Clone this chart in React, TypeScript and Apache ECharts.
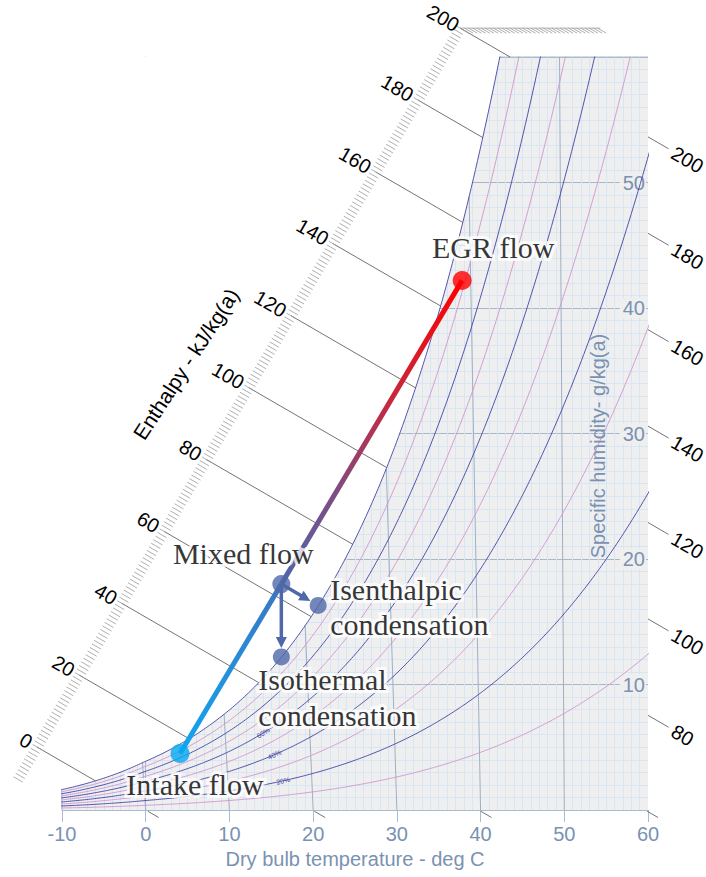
import React, { useEffect, useRef } from "react";
import * as echarts from "echarts";

// ---------- chart data ----------
const tempTicks = [-10, 0, 10, 20, 30, 40, 50, 60];
const humidityTicks = [0, 10, 20, 30, 40, 50, 60];
const rhLevels = [10, 20, 30, 40, 50, 60, 70, 80, 90, 100];
const rhLabelLevels = [20, 40, 60];
const rhLabelTemps = [16.6, 15.7, 14.5];
const isothermTemps = [0, 10, 20, 30, 40, 50];
const enthalpyScale = [0, 20, 40, 60, 80, 100, 120, 140, 160, 180, 200];
const enthalpyRight = [80, 100, 120, 140, 160, 180, 200];
const enthalpyBottom = [0, 20, 40, 60];

// process states, in chart units (dry-bulb scale, g/kg)
const pointNames = ["Intake flow", "Mixed flow", "Isenthalpic\ncondensation", "Isothermal\ncondensation", "EGR flow"];
const pointTemp = [4.1, 16.2, 20.6, 16.2, 37.8];
const pointHum = [4.5, 18.0, 16.3, 12.2, 42.2];

// ---------- psychrometric chart construction ----------
const P_ATM = 101.325;
const psat = (T: number) =>
  T >= 0
    ? 0.61121 * Math.exp((18.678 - T / 234.5) * (T / (257.14 + T)))
    : 0.61115 * Math.exp((23.036 - T / 333.7) * (T / (279.82 + T)));
const humRatio = (T: number, rh: number) => {
  const pv = (rh / 100) * psat(T);
  return (621.98 * pv) / (P_ATM - pv);
};
const enth = (T: number, W: number) => 1.006 * T + W * (2.501 + 0.00186 * T);
// oblique (enthalpy / humidity) chart skew
const KH = 0.99403;
const KW = 2.588;
const chartX = (T: number, W: number) => KH * enth(T, W) - KW * W;
const xOnH = (h: number, W: number) => KH * h - KW * W;
const rulerW = (h: number) => 5.02 + 0.2864 * h;
const satTempForH = (h: number) => {
  let lo = -40, hi = 80;
  for (let i = 0; i < 60; i++) {
    const m = (lo + hi) / 2;
    if (enth(m, humRatio(m, 100)) < h) lo = m; else hi = m;
  }
  return (lo + hi) / 2;
};
const satTempForW = (W: number) => {
  let lo = -40, hi = 80;
  for (let i = 0; i < 60; i++) {
    const m = (lo + hi) / 2;
    if (humRatio(m, 100) < W) lo = m; else hi = m;
  }
  return (lo + hi) / 2;
};

const AXIS_COLOR = "#7a92b2";
const BORDER = "#a9bbd1";
const SANS = '"Liberation Sans", Arial, Helvetica, sans-serif';
const SERIF = '"Liberation Serif", "Times New Roman", serif';
const X_MIN = tempTicks[0];
const X_MAX = tempTicks[tempTicks.length - 1];
const Y_MAX = humidityTicks[humidityTicks.length - 1];

function segSeries(data: number[][], color: string, width: number, z: number) {
  return {
    type: "custom",
    coordinateSystem: "cartesian2d",
    clip: false,
    silent: true,
    z,
    data,
    renderItem: (_p: any, api: any) => {
      const a = api.coord([api.value(0), api.value(1)]);
      const b = api.coord([api.value(2), api.value(3)]);
      return {
        type: "line",
        shape: { x1: a[0], y1: a[1], x2: b[0], y2: b[1] },
        style: { stroke: color, lineWidth: width },
      };
    },
  };
}

function textSeries(data: any[], align: string, size: number, color: string, suffix: string) {
  return {
    type: "custom",
    coordinateSystem: "cartesian2d",
    clip: false,
    silent: true,
    z: 5,
    data,
    renderItem: (_p: any, api: any) => {
      const a = api.coord([api.value(0), api.value(1)]);
      const b = api.coord([api.value(2), api.value(3)]);
      const ang = Math.atan2(b[1] - a[1], b[0] - a[0]);
      return {
        type: "text",
        x: a[0],
        y: a[1],
        rotation: -ang,
        style: {
          text: String(api.value(4)) + suffix,
          fill: color,
          fontSize: size,
          fontFamily: SANS,
          align,
          verticalAlign: "middle",
        },
      };
    },
  };
}

function buildOption() {
  // relative humidity curves
  const rhSeries = rhLevels.map((rh) => {
    const pts: number[][] = [];
    for (let T = -12; T <= 66; T += 0.25) {
      const W = humRatio(T, rh);
      pts.push([chartX(T, W), W]);
      if (W > Y_MAX + 3) break;
    }
    return {
      type: "line",
      data: pts,
      symbol: "none",
      clip: true,
      silent: true,
      z: 3,
      lineStyle: { width: 0.9, color: rh % 20 === 0 ? "#4343a6" : "#cf96cf" },
    };
  });

  // white region above saturation
  const satPts: number[][] = [];
  for (let T = -12; T <= 66; T += 0.25) {
    const W = humRatio(T, 100);
    satPts.push([chartX(T, W), W]);
    if (W > Y_MAX + 2) break;
  }

  // visible parts of the plot frame
  const tTop = satTempForW(Y_MAX);
  const wLeft = humRatio(X_MIN, 100);
  const frame = [
    [chartX(tTop, Y_MAX), Y_MAX, X_MAX, Y_MAX],
    [X_MIN, 0, X_MIN, wLeft],
  ];

  // isotherms (dry bulb lines)
  const isoData = isothermTemps.map((T) => {
    const Wt = Math.min(humRatio(T, 100), Y_MAX);
    return [chartX(T, 0), 0, chartX(T, Wt), Wt];
  });

  // enthalpy lines from the scale to saturation
  const hLines = enthalpyScale.map((h) => {
    const W0 = rulerW(h);
    const Ts = satTempForH(h);
    const W1 = Math.min(humRatio(Ts, 100), Y_MAX);
    return [xOnH(h, W0), W0, xOnH(h, W1), W1];
  });
  const rulerTicks: number[][] = [];
  for (let h = -9; h <= 200; h += 1) {
    const W0 = rulerW(h);
    rulerTicks.push([xOnH(h, W0 - 0.22), W0 - 0.22, xOnH(h, W0 + 0.2), W0 + 0.2]);
  }
  const topW = rulerW(200);
  const topEnd = 54.3;
  for (let h = 200; xOnH(h, topW) <= topEnd; h += 0.5) {
    rulerTicks.push([xOnH(h, topW), topW, xOnH(h, topW - 0.4), topW - 0.4]);
  }
  const topLine = [[xOnH(200, topW), topW, topEnd, topW]];
  const rightStubs = enthalpyRight.map((h) => {
    const W0 = (KH * h - X_MAX) / KW;
    return [X_MAX, W0, xOnH(h, W0 - 0.95), W0 - 0.95];
  });
  const bottomStubs = enthalpyBottom.map((h) => [xOnH(h, -0.1), -0.1, xOnH(h, -0.6), -0.6]);
  const leftLabels = enthalpyScale.map((h) => {
    const Wa = rulerW(h) + (h === 200 ? 0.12 : 0.28);
    return [xOnH(h, Wa), Wa, xOnH(h, Wa - 1), Wa - 1, h];
  });
  const rightLabels = enthalpyRight.map((h) => {
    const Wa = (KH * h - X_MAX) / KW - 1.15;
    return [xOnH(h, Wa), Wa, xOnH(h, Wa - 1), Wa - 1, h];
  });
  const rhLabels = rhLabelLevels.map((rh, i) => {
    const T = rhLabelTemps[i];
    const W1 = humRatio(T, rh);
    const W2 = humRatio(T + 1, rh);
    return [chartX(T, W1), W1, chartX(T + 1, W2), W2, rh];
  });

  const dotColors = ["#06a7f0", "#4f68a8", "#4f68a8", "#4f68a8", "#ff0000"];
  const dotSizes = [19, 18, 17, 17, 19];
  const labelCfg: any[] = [
    { offset: [15, 31], align: "center" },
    { offset: [-38, -31], align: "center" },
    { offset: [12, 2], align: "left", lineHeight: 35 },
    { offset: [-23, 41], align: "left", lineHeight: 36 },
    { offset: [31, -33], align: "center" },
  ];

  return {
    animation: false,
    backgroundColor: "#ffffff",
    grid: {
      left: 62,
      right: 58,
      top: 57,
      bottom: 67,
      show: true,
      backgroundColor: "#efefef",
      borderWidth: 0,
      borderColor: "transparent",
    },
    graphic: [
      {
        type: "text",
        x: 186,
        y: 364,
        z: 100,
        rotation: (-57 * Math.PI) / 180 * -1,
        silent: true,
        style: {
          text: "Enthalpy - kJ/kg(a)",
          fill: "#000",
          fontSize: 21,
          fontFamily: SANS,
          align: "center",
          verticalAlign: "middle",
        },
      },
      {
        type: "text",
        x: 598,
        y: 446,
        z: 100,
        rotation: Math.PI / 2,
        silent: true,
        style: {
          text: "Specific humidity- g/kg(a)",
          fill: AXIS_COLOR,
          fontSize: 20,
          fontFamily: SANS,
          align: "center",
          verticalAlign: "middle",
        },
      },
    ],
    xAxis: {
      type: "value",
      min: X_MIN,
      max: X_MAX,
      interval: 10,
      name: "Dry bulb temperature - deg C",
      nameLocation: "middle",
      nameGap: 39,
      nameTextStyle: { color: AXIS_COLOR, fontSize: 20, fontFamily: SANS },
      axisLine: { show: true, lineStyle: { color: BORDER } },
      axisTick: { show: true, length: 12, lineStyle: { color: BORDER } },
      axisLabel: { color: AXIS_COLOR, fontSize: 20, margin: 14, fontFamily: SANS },
      splitLine: { show: false },
      minorTick: { show: false, splitNumber: 10 },
      minorSplitLine: { show: true, lineStyle: { color: "#d8e5f2", width: 1 } },
    },
    yAxis: {
      type: "value",
      position: "right",
      min: humidityTicks[0],
      max: Y_MAX,
      interval: 10,
      axisLine: { show: true, lineStyle: { color: BORDER } },
      axisTick: { show: false },
      axisLabel: {
        inside: true,
        color: AXIS_COLOR,
        fontSize: 20,
        margin: 2,
        fontFamily: SANS,
        showMinLabel: false,
        showMaxLabel: false,
        backgroundColor: "#efefef",
        padding: [0, 1, 0, 3],
      },
      splitLine: { show: true, lineStyle: { color: "#a6b7cb", width: 1 } },
      minorTick: { show: false, splitNumber: 10 },
      minorSplitLine: { show: true, lineStyle: { color: "#d8e5f2", width: 1 } },
    },
    series: [
      {
        type: "line",
        data: satPts,
        symbol: "none",
        clip: true,
        silent: true,
        z: 1,
        lineStyle: { width: 0, opacity: 0 },
        areaStyle: { color: "#ffffff", opacity: 1, origin: "end" },
      },
      segSeries(frame, BORDER, 1, 2),
      { ...segSeries(isoData, "#9eb0c6", 1, 2), clip: true },
      ...rhSeries,
      segSeries(hLines, "#505050", 0.8, 3),
      segSeries(rulerTicks, "#9a9a9a", 0.8, 3),
      segSeries(topLine, "#9a9a9a", 0.8, 3),
      segSeries(rightStubs, "#505050", 0.8, 3),
      segSeries(bottomStubs, "#505050", 0.8, 3),
      textSeries(leftLabels, "right", 20, "#000", ""),
      textSeries(rightLabels, "left", 20, "#000", ""),
      textSeries(rhLabels, "center", 7, "#4343a6", "%"),
      {
        type: "line",
        data: [
          [pointTemp[0], pointHum[0]],
          [pointTemp[1], pointHum[1]],
        ],
        symbol: "none",
        clip: false,
        silent: true,
        z: 6,
        lineStyle: {
          width: 5,
          color: new echarts.graphic.LinearGradient(0, 1, 1, 0, [
            { offset: 0, color: "#11a6f2" },
            { offset: 1, color: "#3b76c0" },
          ]),
        },
      },
      {
        type: "line",
        data: [
          [pointTemp[1], pointHum[1]],
          [pointTemp[4], pointHum[4]],
        ],
        symbol: "none",
        clip: false,
        silent: true,
        z: 6,
        lineStyle: {
          width: 5,
          color: new echarts.graphic.LinearGradient(0, 1, 1, 0, [
            { offset: 0, color: "#4f66aa" },
            { offset: 0.3, color: "#7f4c82" },
            { offset: 0.6, color: "#c6283e" },
            { offset: 1, color: "#ff0000" },
          ]),
        },
      },
      {
        type: "custom",
        coordinateSystem: "cartesian2d",
        clip: false,
        silent: true,
        z: 7,
        data: [
          [pointTemp[1], pointHum[1], pointTemp[2], pointHum[2]],
          [pointTemp[1], pointHum[1], pointTemp[3], pointHum[3]],
        ],
        renderItem: (_p: any, api: any) => {
          const a = api.coord([api.value(0), api.value(1)]);
          const b = api.coord([api.value(2), api.value(3)]);
          const dx = b[0] - a[0], dy = b[1] - a[1];
          const len = Math.hypot(dx, dy);
          const ux = dx / len, uy = dy / len;
          const tip = [b[0] - ux * 9, b[1] - uy * 9];
          const base = [tip[0] - ux * 11, tip[1] - uy * 11];
          const nx = -uy, ny = ux;
          return {
            type: "group",
            children: [
              {
                type: "line",
                shape: { x1: a[0], y1: a[1], x2: base[0] + ux, y2: base[1] + uy },
                style: { stroke: "#4f68a8", lineWidth: 3.5 },
              },
              {
                type: "polygon",
                shape: {
                  points: [
                    tip,
                    [base[0] + nx * 5.5, base[1] + ny * 5.5],
                    [base[0] - nx * 5.5, base[1] - ny * 5.5],
                  ],
                },
                style: { fill: "#4f68a8" },
              },
            ],
          };
        },
      },
      {
        type: "scatter",
        z: 8,
        silent: true,
        symbol: "circle",
        data: pointNames.map((n, i) => ({
          value: [pointTemp[i], pointHum[i]],
          name: n,
          symbolSize: dotSizes[i],
          itemStyle: { color: dotColors[i] },
          label: labelCfg[i],
        })),
        label: {
          show: true,
          position: "inside",
          formatter: "{b}",
          fontFamily: SERIF,
          fontSize: 30,
          color: "#000",
          textBorderColor: "#ffffff",
          textBorderWidth: 6,
        },
      },
    ],
  };
}

export default function App() {
  const ref = useRef<HTMLDivElement>(null);
  useEffect(() => {
    if (!ref.current) return;
    const chart = echarts.init(ref.current, null, { renderer: "svg" });
    chart.setOption(buildOption() as any);
    return () => chart.dispose();
  }, []);
  return (
    <div
      ref={ref}
      style={{ position: "absolute", left: 0, top: 0, width: 706, height: 877, background: "#fff" }}
    />
  );
}
